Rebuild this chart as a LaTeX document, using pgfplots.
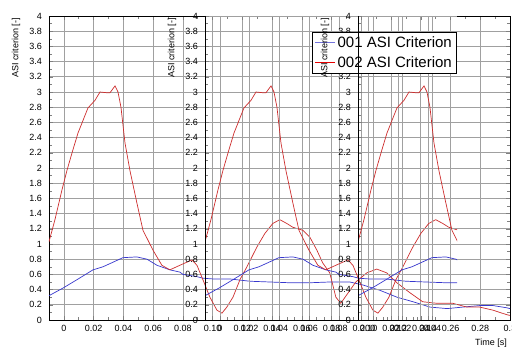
\documentclass[border=0pt]{standalone}
\usepackage{pgfplots}
\pgfplotsset{compat=1.18}
\usepackage{pgfplotstable}
\usepackage{fontspec}
\setmainfont{Liberation Sans}
\definecolor{cred}{RGB}{205,45,45}
\definecolor{cblue}{RGB}{55,55,205}
\definecolor{cgrid}{RGB}{160,160,160}

\pgfplotstableread{
x y
-0.0100 1.03
-0.0060 1.32
-0.0013 1.71
0.0021 1.97
0.0061 2.24
0.0095 2.46
0.0162 2.79
0.0209 2.89
0.0243 3.00
0.0290 2.99
0.0310 2.99
0.0344 3.08
0.0364 3.00
0.0384 2.80
0.0411 2.33
0.0444 1.97
0.0491 1.54
0.0532 1.18
0.0599 0.92
0.0659 0.72
0.0713 0.66
0.0780 0.72
0.0861 0.79
0.0895 0.72
0.0935 0.53
0.0982 0.30
0.1029 0.13
0.1063 0.09
0.1096 0.17
0.1137 0.30
0.1184 0.53
0.1231 0.70
0.1298 0.96
0.1352 1.14
0.1405 1.27
0.1452 1.32
0.1499 1.27
0.1540 1.22
0.1607 1.18
0.1654 1.09
0.1701 0.92
0.1741 0.75
0.1788 0.62
0.1829 0.30
0.1862 0.22
0.1909 0.35
0.1963 0.50
0.2037 0.62
0.2104 0.67
0.2171 0.62
0.2239 0.49
0.2326 0.36
0.2413 0.24
0.2507 0.22
0.2615 0.22
0.2709 0.17
0.2796 0.17
0.2884 0.13
0.2978 0.07
0.3000 0.06
}\redtab

\pgfplotstableread{
x y
-0.0100 0.32
-0.0006 0.42
0.0088 0.53
0.0196 0.66
0.0263 0.70
0.0330 0.76
0.0397 0.82
0.0491 0.83
0.0559 0.80
0.0626 0.72
0.0713 0.66
0.0780 0.63
0.0801 0.60
0.0895 0.57
0.0935 0.55
0.1002 0.54
0.1116 0.54
0.1251 0.51
0.1385 0.50
0.1520 0.49
0.1654 0.49
0.1788 0.50
0.1923 0.50
0.2012 0.46
0.2126 0.39
0.2240 0.30
0.2348 0.24
0.2462 0.17
0.2577 0.15
0.2684 0.17
0.2798 0.19
0.2886 0.19
0.2980 0.16
0.3000 0.15
}\bluetab

\pgfplotsset{
  asibase/.style={
    scale only axis, height=304pt, ymin=0, ymax=4,
    ytick={0,0.2,0.4,0.6,0.8,1,1.2,1.4,1.6,1.8,2,2.2,2.4,2.6,2.8,3,3.2,3.4,3.6,3.8,4},
    minor y tick num=1, minor x tick num=1,
    scaled x ticks=false, scaled y ticks=false,
    tick align=inside,
    major tick length=4pt, minor tick length=3pt,
    grid=major, major grid style={cgrid, line width=0.6pt},
    tick style={line width=0.5pt},
    axis line style={line width=0.7pt},
    tick label style={font=\fontsize{9}{10}\selectfont, inner sep=0pt},
    yticklabel style={xshift=-7pt},
    xticklabel style={yshift=-5pt},
    /pgf/number format/assume math mode=true,
    clip=true,
  },
  overlay/.style={
    asibase,
    axis line style={draw=none},
    xtick pos=bottom, ytick pos=left,
    extra description/.code={
      \draw[black, line width=0.7pt] (0,1) -- (0,0) -- (1,0);
      \node[rotate=90, anchor=east, inner sep=0pt, font=\fontsize{9}{10}\selectfont]
        at ([xshift=#1]0,0.9934) {ASI criterion [-]};
    },
  },
}

\begin{document}
\begin{tikzpicture}
\useasboundingbox (-49pt,-27pt) rectangle (463pt,320pt);
% base chart
\begin{axis}[asibase, at={(0pt,0pt)}, anchor=south west, width=461pt,
  xmin=-0.01, xmax=0.30,
  xtick={0,0.02,0.04,0.06,0.08,0.10,0.12,0.14,0.16,0.18,0.20,0.22,0.24,0.26,0.28,0.30},
  xticklabels={0,0.02,0.04,0.06,0.08,0.10,0.12,0.14,0.16,0.18,0.20,0.22,0.24,0.26,0.28,0.3},
  ylabel={ASI criterion [-]},
  ylabel style={font=\fontsize{9}{10}\selectfont, inner sep=0pt, anchor=east,
    at={(axis description cs:-0.0716,0.9934)}},
  xlabel={Time [s]},
  xlabel style={font=\fontsize{9}{10}\selectfont, inner sep=0pt,
    at={(axis description cs:0.9935,-0.0757)}, anchor=east},
]
\addplot[draw=cblue, line width=0.7pt] table {\bluetab};
\addplot[draw=cred, line width=0.7pt] table {\redtab};
\end{axis}
% second rendering
\begin{axis}[overlay={-33pt}, at={(156pt,0pt)}, anchor=south west, width=252pt,
  xmin=-0.01, xmax=0.1595,
  xtick={0,0.02,0.04,0.06,0.08,0.10,0.12,0.14},
  xticklabels={0,0.02,0.04,0.06,0.08,0.10,0.12,0.14},
]
\addplot[draw=cblue, line width=0.7pt] table {\bluetab};
\addplot[draw=cred, line width=0.7pt] table {\redtab};
\end{axis}
% third rendering
\begin{axis}[overlay={-33pt}, at={(309pt,0pt)}, anchor=south west, width=99pt,
  xmin=-0.01, xmax=0.0566,
  xtick={0,0.02,0.04},
  xticklabels={0,0.02,0.04},
  legend style={at={(axis description cs:0.99,0.947)}, anchor=north east,
    fill=white, font=\fontsize{15}{17}\selectfont,
    inner xsep=2pt, inner ysep=2pt, row sep=4pt},
  legend cell align=left,
]
\addplot[draw=cblue, line width=0.7pt, forget plot] table {\bluetab};
\addplot[draw=cred, line width=0.7pt, forget plot] table {\redtab};
\addlegendimage{legend image code/.code={\draw[cblue!70!white, line width=1pt] (0pt,0pt) -- (20pt,0pt);}}
\addlegendentry{001 ASI Criterion}
\addlegendimage{legend image code/.code={\draw[red!90!black, line width=1pt] (0pt,0pt) -- (20pt,0pt);}}
\addlegendentry{002 ASI Criterion}
\end{axis}
\end{tikzpicture}
\end{document}
